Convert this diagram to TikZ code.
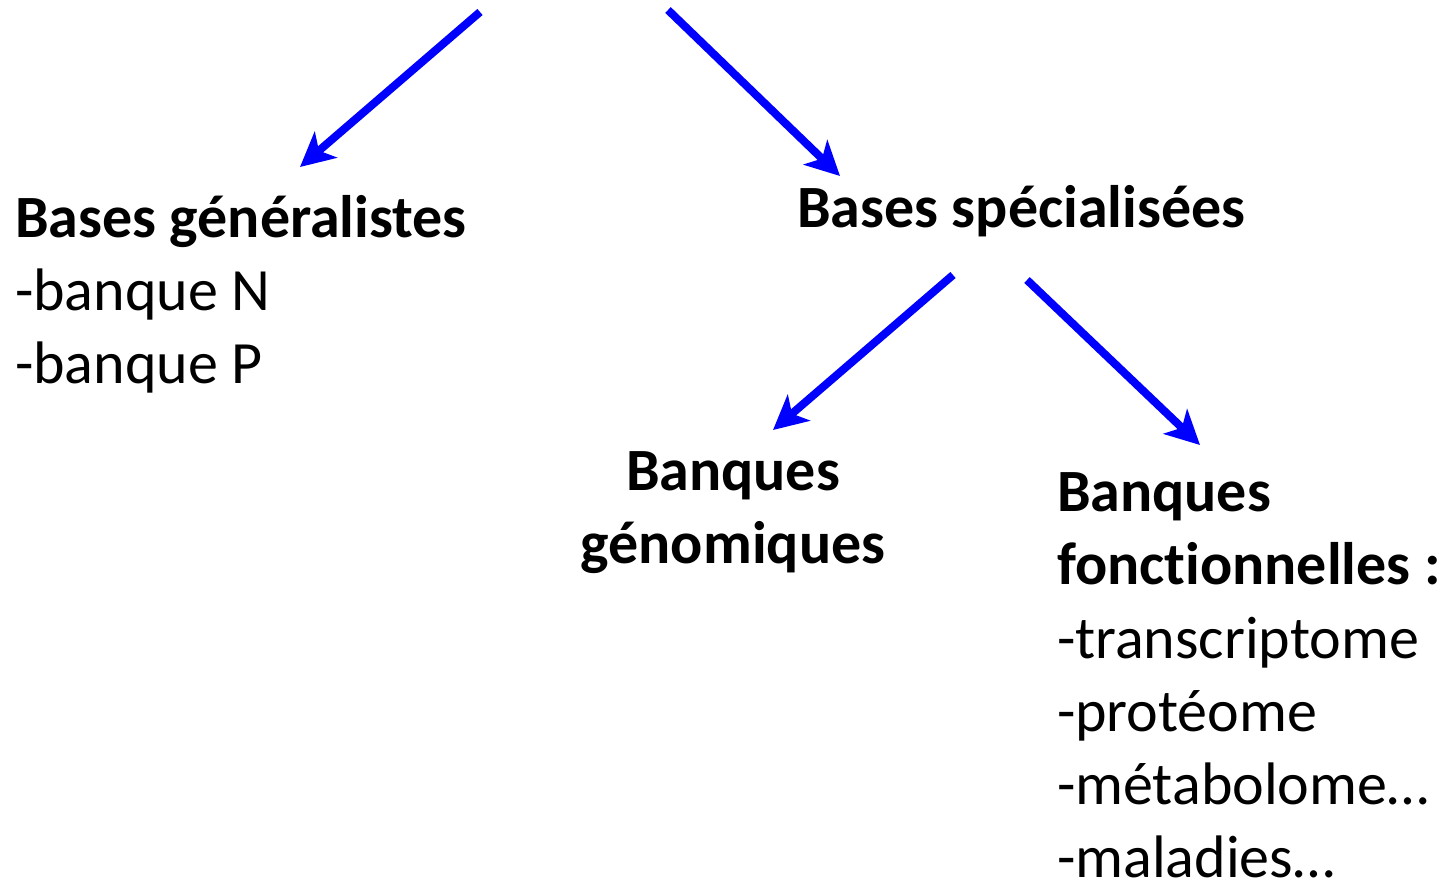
\documentclass[tikz,border=0pt]{standalone}
\usepackage{fontspec}
\setmainfont{Carlito}[Ligatures=NoCommon]
\usetikzlibrary{arrows.meta}
\begin{document}
\begin{tikzpicture}[x=1pt,y=-1pt,
  txt/.style={inner sep=0pt,outer sep=0pt,font=\fontsize{60}{73}\selectfont},
  ttl/.style={txt,font=\fontsize{60}{73}\selectfont\bfseries},
  bluearrow/.style={draw={rgb,255:red,0;green,0;blue,255},line width=8pt,
    -{Stealth[length=34pt,width=34pt,inset=9pt]}}]
\useasboundingbox (0,0) rectangle (1456,879);
% texts
\node[ttl,anchor=base west] (gen) at (15,237) {Bases généralistes};
\node[txt,anchor=base west] (bn) at (15,310) {-banque N};
\node[txt,anchor=base west] (bp) at (15,383) {-banque P};
\node[ttl,anchor=base west] (spe) at (797,227) {Bases spécialisées};
\node[ttl,anchor=base] (genom1) at (733,490) {Banques};
\node[ttl,anchor=base] (genom2) at (733,563) {génomiques};
\node[ttl,anchor=base west] (fon1) at (1057,511) {Banques};
\node[ttl,anchor=base west] (fon2) at (1057,584) {fonctionnelles :};
\node[txt,anchor=base west] (f1) at (1057,658) {-transcriptome};
\node[txt,anchor=base west] (f2) at (1057,731) {-protéome};
\node[txt,anchor=base west] (f3) at (1057,804) {-métabolome…};
\node[txt,anchor=base west] (f4) at (1057,877) {-maladies…};
% arrow ends
\coordinate (a1s) at (480,12);  \coordinate (a1e) at (300,167);
\coordinate (a2s) at (668,10);  \coordinate (a2e) at (840,176);
\coordinate (a3s) at (953,275); \coordinate (a3e) at (773,430);
\coordinate (a4s) at (1027,280);\coordinate (a4e) at (1200,445);
\draw[bluearrow] (a1s) -- (a1e);
\draw[bluearrow] (a2s) -- (a2e);
\draw[bluearrow] (a3s) -- (a3e);
\draw[bluearrow] (a4s) -- (a4e);
\end{tikzpicture}
\end{document}
